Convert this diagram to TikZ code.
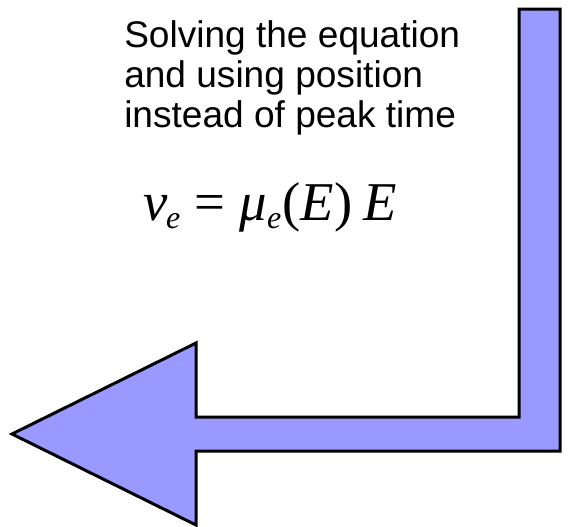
\documentclass[tikz,border=0pt]{standalone}
\usepackage{fontspec}
\setmainfont{Liberation Sans}
\newfontfamily\eqfont{Liberation Serif}
\definecolor{arrowfill}{RGB}{153,153,255}
\newcommand{\lowsub}[1]{\raisebox{-6pt}{\fontsize{24}{24}\selectfont #1}}

\begin{document}
\begin{tikzpicture}[x=0.75pt,y=-0.75pt,
  bentarrow/.style={draw=black,fill=arrowfill,line width=2.25pt,miter limit=10},
  caption/.style={align=left,font=\fontsize{27.8}{30}\selectfont,inner sep=0pt,anchor=north west},
  formula/.style={font=\eqfont\itshape\fontsize{41}{48}\selectfont,inner sep=0pt,anchor=base west}
]
\useasboundingbox (0,0) rectangle (568,526);
% bent arrow, down then back to the left
\draw[bentarrow] (519,9) -- (560,9) -- (560,451) -- (196,451) -- (196,525)
  -- (12,434) -- (196,343) -- (196,417) -- (519,417) -- cycle;
\node[caption] (steps) at (124,20) {Solving the equation\\and using position\\instead of peak time};
\node[formula] (law) at (143,220)
  {v\kern-1pt\lowsub{e}\hspace{0.26em}{\upshape=}\hspace{0.26em}μ\lowsub{e}\kern1pt{\upshape(}E{\upshape)}\hspace{0.2em}E};
\end{tikzpicture}
\end{document}
